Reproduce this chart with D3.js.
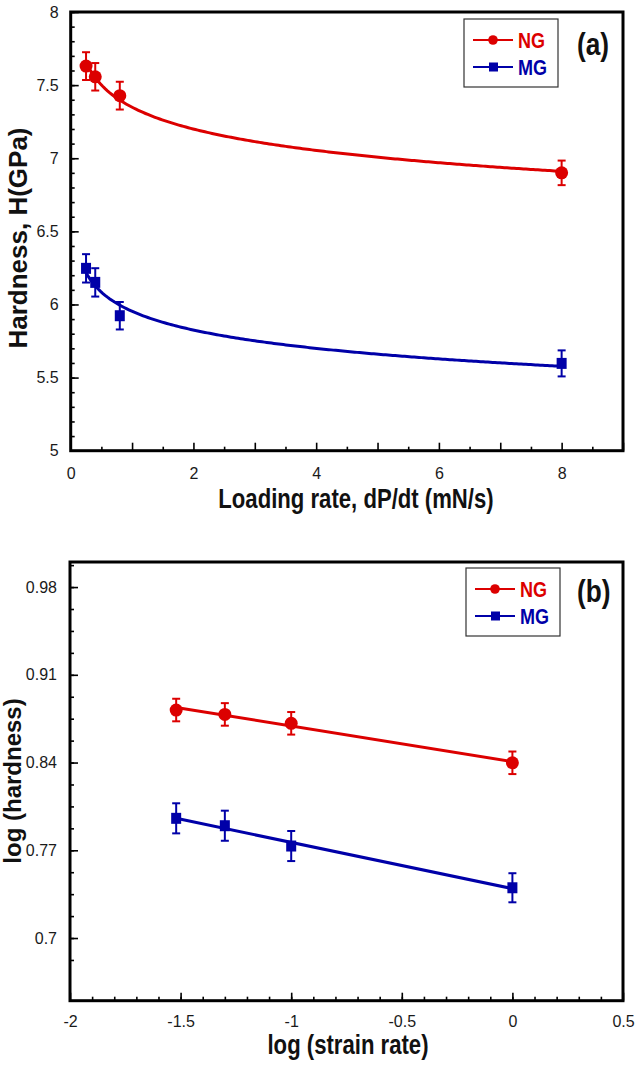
<!DOCTYPE html>
<html>
<head>
<meta charset="utf-8">
<script src="https://cdn.jsdelivr.net/npm/d3@7"></script>
<style>
  html, body { margin: 0; padding: 0; background: #fff; }
  svg { display: block; }
  .tick text { font-family: "Liberation Sans", Arial, sans-serif; font-size: 16px; fill: #1a1a1a; }
  .tick line { stroke: #000; stroke-width: 1.6px; }
  .domain { display: none; }
  .title { font-family: "Liberation Sans", Arial, sans-serif; font-weight: bold; fill: #111; }
  .ytitle { font-family: "Liberation Sans", Arial, sans-serif; font-weight: bold; fill: #111; }
</style>
</head>
<body>
<svg id="chart" width="637" height="1065"></svg>
<script>
// (a) hardness vs loading rate
var loadingRate = [0.25, 0.4, 0.8, 8];
var hardnessNG = [7.63, 7.557, 7.428, 6.90];
var hardnessNGErr = [0.095, 0.094, 0.095, 0.084];
var hardnessMG = [6.247, 6.151, 5.923, 5.597];
var hardnessMGErr = [0.097, 0.097, 0.094, 0.089];

// (b) log hardness vs log strain rate
var logStrainRate = [-1.52, -1.3, -1, 0];
var logHardnessNG = [0.8819, 0.8784, 0.8713, 0.8398];
var logHardnessNGErr = [0.009, 0.009, 0.009, 0.009];
var logHardnessMG = [0.7955, 0.7896, 0.7734, 0.7401];
var logHardnessMGErr = [0.012, 0.012, 0.012, 0.0116];

var seriesNames = ["NG", "MG"];
var ticksXa = [0, 2, 4, 6, 8];
var ticksYa = [5, 5.5, 6, 6.5, 7, 7.5, 8];
var ticksXb = [-2, -1.5, -1, -0.5, 0, 0.5];
var ticksYb = [0.7, 0.77, 0.84, 0.91, 0.98];

var red = "#dc0000",
  blue = "#0000a8",
  narrow = 0.82; // the titles are set in a condensed bold face

var svg = d3.select("#chart");
svg.append("rect").attr("width", 637).attr("height", 1065).attr("fill", "#fff");

// least squares on (u, v)
function linFit(u, v) {
  var mu = d3.mean(u), mv = d3.mean(v), sxy = 0, sxx = 0;
  for (var i = 0; i < u.length; i++) {
    sxy += (u[i] - mu) * (v[i] - mv);
    sxx += (u[i] - mu) * (u[i] - mu);
  }
  var b = sxy / sxx;
  return { a: mv - b * mu, b: b };
}

function condensed(parent, tx, ty, size, txt) {
  return parent.append("text")
    .attr("class", "title")
    .attr("transform", "translate(" + tx + "," + ty + ") scale(" + narrow + ",1)")
    .style("font-size", size + "px")
    .text(txt);
}

var plain = d => String(d);

function drawPanel(p) {
  var g = svg.append("g");
  var x = d3.scaleLinear().domain(p.xDomain).range([p.left, p.right]),
    y = d3.scaleLinear().domain(p.yDomain).range([p.bottom, p.top]);

  // minor + major ticks (inward)
  g.append("g")
    .attr("transform", "translate(0," + p.bottom + ")")
    .call(d3.axisBottom(x).tickValues(p.xMinor).tickSize(-4).tickFormat(""));
  g.append("g")
    .attr("transform", "translate(0," + p.bottom + ")")
    .call(d3.axisBottom(x).tickValues(p.xMajor).tickSize(-8).tickFormat(""));
  g.append("g")
    .attr("transform", "translate(0," + p.bottom + ")")
    .call(d3.axisBottom(x).tickValues(p.xTicks).tickSize(0).tickPadding(p.xPad).tickFormat(plain));

  g.append("g")
    .attr("transform", "translate(" + p.left + ",0)")
    .call(d3.axisLeft(y).tickValues(p.yMinor).tickSize(-4).tickFormat(""));
  g.append("g")
    .attr("transform", "translate(" + p.left + ",0)")
    .call(d3.axisLeft(y).tickValues(p.yTicks).tickSize(-8).tickPadding(p.yPad).tickFormat(plain));

  // frame
  g.append("rect")
    .attr("x", p.left).attr("y", p.top)
    .attr("width", p.right - p.left).attr("height", p.bottom - p.top)
    .attr("fill", "none").attr("stroke", "#000").attr("stroke-width", 3);

  // fitted curves, error bars, markers
  p.series.forEach(function(s) {
    var pts;
    if (p.fit === "power") {
      var f = linFit(s.x.map(Math.log), s.y.map(Math.log)),
        x0 = d3.min(s.x), x1 = d3.max(s.x);
      pts = d3.range(0, 201).map(function(k) {
        var xv = x0 + (x1 - x0) * k / 200;
        return [xv, Math.exp(f.a) * Math.pow(xv, f.b)];
      });
    } else {
      var l = linFit(s.x, s.y);
      pts = d3.extent(s.x).map(function(xv) { return [xv, l.a + l.b * xv]; });
    }
    g.append("path")
      .attr("d", d3.line().x(d => x(d[0])).y(d => y(d[1]))(pts))
      .attr("fill", "none")
      .attr("stroke", s.color)
      .attr("stroke-width", 3);

    var pt = g.selectAll(null)
      .data(s.x.map((xv, i) => ({ x: xv, y: s.y[i], e: s.err[i] })))
      .enter().append("g")
      .attr("stroke", s.color)
      .attr("fill", s.color);

    pt.append("line")
      .attr("x1", d => x(d.x)).attr("x2", d => x(d.x))
      .attr("y1", d => y(d.y + d.e)).attr("y2", d => y(d.y - d.e))
      .attr("stroke-width", 2);
    [1, -1].forEach(function(sg) {
      pt.append("line")
        .attr("x1", d => x(d.x) - 4).attr("x2", d => x(d.x) + 4)
        .attr("y1", d => y(d.y + sg * d.e)).attr("y2", d => y(d.y + sg * d.e))
        .attr("stroke-width", 2);
    });
    if (s.shape === "circle") {
      pt.append("circle")
        .attr("cx", d => x(d.x)).attr("cy", d => y(d.y))
        .attr("r", 6.5).attr("stroke", "none");
    } else {
      pt.append("rect")
        .attr("x", d => x(d.x) - 5).attr("y", d => y(d.y) - 5.5)
        .attr("width", 10).attr("height", 11).attr("stroke", "none");
    }
  });

  // axis titles
  condensed(g, p.xTitleX, p.xTitleY, 27, p.xTitle)
    .attr("text-anchor", "middle");

  g.append("text")
    .attr("class", "ytitle")
    .attr("transform", "translate(" + p.yTitleX + "," + p.yTitleMid + ") rotate(-90)")
    .attr("text-anchor", "middle")
    .style("font-size", p.yTitleSize + "px")
    .text(p.yTitle);

  // legend
  var lg = g.append("g").attr("transform", "translate(" + p.legend[0] + "," + p.legend[1] + ")");
  lg.append("rect")
    .attr("width", 94).attr("height", 68)
    .attr("fill", "#fff").attr("stroke", "#333").attr("stroke-width", 1.2);
  p.series.forEach(function(s, i) {
    var ly = 21 + i * 27;
    lg.append("line")
      .attr("x1", 9).attr("x2", 49).attr("y1", ly).attr("y2", ly)
      .attr("stroke", s.color).attr("stroke-width", 2);
    if (s.shape === "circle") {
      lg.append("circle").attr("cx", 29).attr("cy", ly).attr("r", 4.8).attr("fill", s.color);
    } else {
      lg.append("rect").attr("x", 25).attr("y", ly - 4.5).attr("width", 9).attr("height", 9).attr("fill", s.color);
    }
    condensed(lg, 54, ly + 8, 22, s.name)
      .style("fill", s.color);
  });

  condensed(g, p.tag[0], p.tag[1], 32, p.tagText);
}

drawPanel({
  left: 70.7, right: 623, top: 12, bottom: 450.7,
  xDomain: [0, 9], yDomain: [5, 8],
  xTicks: ticksXa,
  xMajor: d3.range(0, 10, 1),
  xMinor: d3.range(0.5, 9, 1),
  yTicks: ticksYa,
  yMinor: d3.range(5, 8.0001, 0.1),
  xPad: 17, yPad: 12,
  fit: "power",
  series: [
    { name: seriesNames[0], x: loadingRate, y: hardnessNG, err: hardnessNGErr, color: red, shape: "circle" },
    { name: seriesNames[1], x: loadingRate, y: hardnessMG, err: hardnessMGErr, color: blue, shape: "square" }
  ],
  xTitle: "Loading rate, dP/dt (mN/s)", xTitleX: 356, xTitleY: 508,
  yTitle: "Hardness, H(GPa)", yTitleX: 27, yTitleMid: 238, yTitleSize: 26,
  legend: [464, 19],
  tag: [577, 55], tagText: "(a)"
});

drawPanel({
  left: 70, right: 623, top: 562, bottom: 1000.7,
  xDomain: [-2, 0.5], yDomain: [0.65, 1.0],
  xTicks: ticksXb,
  xMajor: ticksXb,
  xMinor: d3.range(-1.9, 0.5, 0.1),
  yTicks: ticksYb,
  yMinor: d3.range(0.6825, 1.0, 0.0175),
  xPad: 14.5, yPad: 13,
  fit: "linear",
  series: [
    { name: seriesNames[0], x: logStrainRate, y: logHardnessNG, err: logHardnessNGErr, color: red, shape: "circle" },
    { name: seriesNames[1], x: logStrainRate, y: logHardnessMG, err: logHardnessMGErr, color: blue, shape: "square" }
  ],
  xTitle: "log (strain rate)", xTitleX: 348, xTitleY: 1054,
  yTitle: "log (hardness)", yTitleX: 21, yTitleMid: 781, yTitleSize: 24,
  legend: [466, 568],
  tag: [577, 602], tagText: "(b)"
});
</script>
</body>
</html>
